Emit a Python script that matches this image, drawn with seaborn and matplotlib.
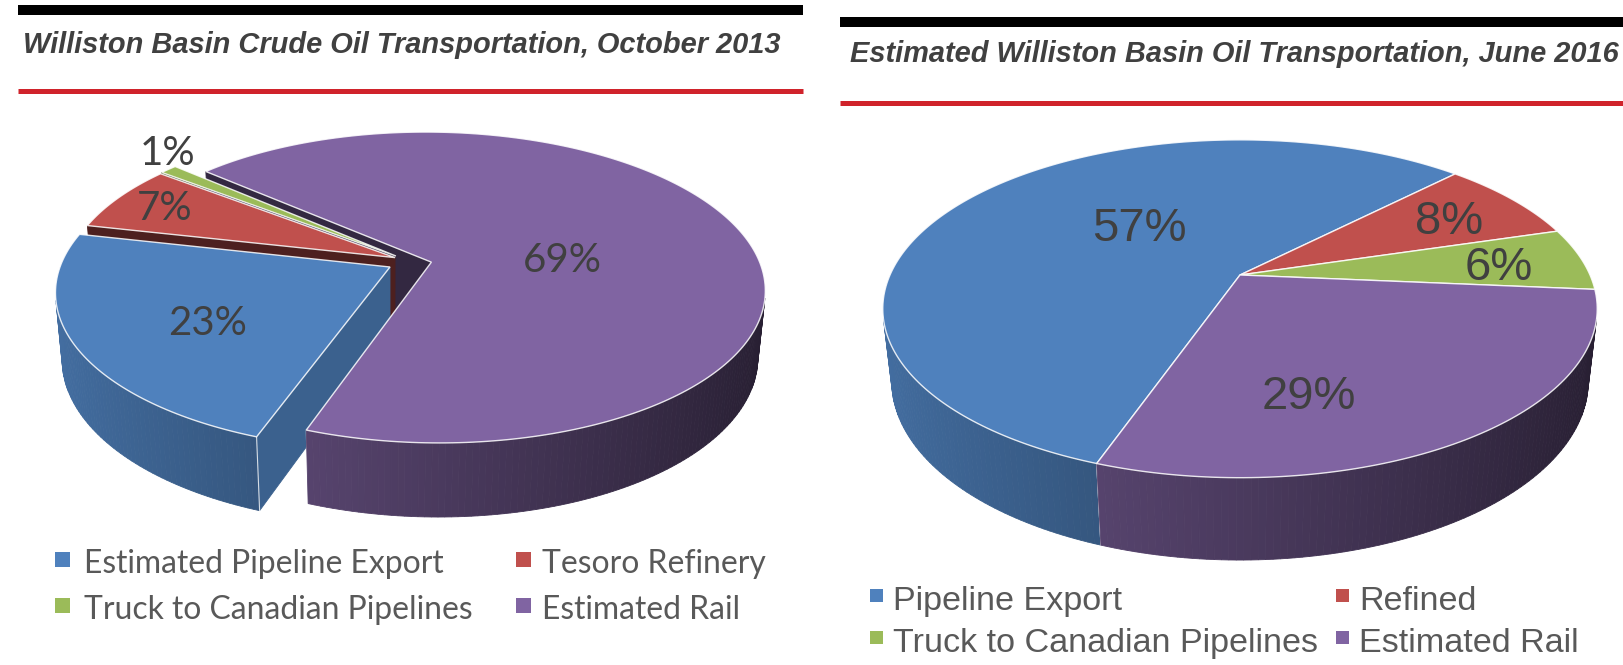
import numpy as np
import matplotlib
matplotlib.use("Agg")
import matplotlib.pyplot as plt
from matplotlib.patches import Polygon, Rectangle
from matplotlib.colors import to_rgb
from matplotlib import font_manager
import seaborn as sns

# values
oct2013_title = "Williston Basin Crude Oil Transportation, October 2013"
oct2013_labels = ["Estimated Pipeline Export", "Tesoro Refinery",
                  "Truck to Canadian Pipelines", "Estimated Rail"]
oct2013_share = [23, 7, 1, 69]

jun2016_title = "Estimated Williston Basin Oil Transportation, June 2016"
jun2016_labels = ["Pipeline Export", "Refined",
                  "Truck to Canadian Pipelines", "Estimated Rail"]
jun2016_share = [57, 8, 6, 29]

sns.set_theme(style="white")
colors = sns.color_palette(["#4F81BD", "#C0504D", "#9BBB59", "#8064A2"])
text_grey = "#404040"

names = {f.name for f in font_manager.fontManager.ttflist}
narrow = "Liberation Sans Narrow" if "Liberation Sans Narrow" in names else "Liberation Sans"
calibri_like = "Lato" if "Lato" in names else "DejaVu Sans"
plt.rcParams["font.family"] = ["Liberation Sans", "DejaVu Sans"]

W, H = 1623, 665
fig = plt.figure(figsize=(W / 100, H / 100), dpi=100)
ax = fig.add_axes([0, 0, 1, 1])
ax.set_xlim(0, W)
ax.set_ylim(H, 0)
ax.axis("off")
renderer = fig.canvas.get_renderer()


def fit_size(s, width_px, **kw):
    t = ax.text(0, 0, s, fontsize=20, **kw)
    w = t.get_window_extent(renderer).width
    t.remove()
    return 20 * width_px / w


def shade(col, f):
    return tuple(np.clip(np.array(to_rgb(col)) * f, 0, 1))


def header(title, x0, x1, bar_y, rule_y, text_x, text_w, base_y):
    ax.plot([x0, x1], [bar_y, bar_y], color="black", lw=7.2, solid_capstyle="butt")
    ax.plot([x0, x1], [rule_y, rule_y], color="#D0232B", lw=3.6, solid_capstyle="butt")
    fs = fit_size(title, text_w, family=narrow, weight="bold", style="italic")
    ax.text(text_x, base_y, title, fontsize=fs, family=narrow, weight="bold",
            style="italic", color=text_grey, va="baseline")


def legend(labels, sq_x, txt_x, base_y, sq, fit_label, fit_w, family):
    fs = fit_size(fit_label, fit_w, family=family)
    for i, lab in enumerate(labels):
        col, row = i % 2, i // 2
        ax.add_patch(Rectangle((sq_x[col], base_y[row] - 0.42 * fs * 1.39 - sq / 2), sq, sq,
                               fc=colors[i], ec="none"))
        ax.text(txt_x[col], base_y[row], lab, fontsize=fs, family=family,
                color="#595959", va="baseline")


def draw_pie3d(shares, cx, cy, R, elev, persp, h, start, explode, explode_dir,
               label_pos, label_font, label_size):
    s, c = np.sin(np.radians(elev)), np.cos(np.radians(elev))
    D = persp * c
    cam = np.array([0.0, -D * c, D * s])

    def proj(u, v, z):
        f = D / (D + v * c - z * s)
        return cx + R * u * f, cy - R * (v * s + z * c) * f

    def depth(p):
        return D + p[1] * c - p[2] * s

    n = len(shares)
    edges = start - 360 * np.r_[0, np.cumsum(shares)] / np.sum(shares)
    offs = []
    for i in range(n):
        a = (edges[i] + edges[i + 1]) / 2 if explode_dir[i] is None else explode_dir[i]
        offs.append(explode[i] * np.array([np.cos(np.radians(a)), np.sin(np.radians(a))]))

    walls, tops = [], []
    for i in range(n):
        a0, a1 = edges[i], edges[i + 1]
        o = offs[i]
        t = np.radians(np.linspace(a0, a1, int(abs(a0 - a1)) + 2))
        u, v = o[0] + np.cos(t), o[1] + np.sin(t)
        tx, ty = proj(np.r_[o[0], u], np.r_[o[1], v], 0.0)
        tops.append((np.column_stack([tx, ty]), colors[i]))
        # outer wall, shaded light on the left to dark on the right
        for k in range(len(t) - 1):
            tm = 0.5 * (t[k] + t[k + 1])
            nrm = np.array([np.cos(tm), np.sin(tm), 0.0])
            p = np.array([o[0] + np.cos(tm), o[1] + np.sin(tm), -h / 2])
            if nrm @ (cam - p) <= 0:
                continue
            x1, y1 = proj(u[k:k + 2], v[k:k + 2], 0.0)
            x2, y2 = proj(u[k:k + 2][::-1], v[k:k + 2][::-1], -h)
            fc = shade(colors[i], np.clip(0.58 - 0.28 * nrm[0], 0.3, 1))
            walls.append((depth(p), "poly", np.column_stack([np.r_[x1, x2], np.r_[y1, y2]]), fc))
        # white edge where slices meet on the wall
        for a in (a0, a1):
            ar = np.radians(a)
            nrm = np.array([np.cos(ar), np.sin(ar), 0.0])
            p = np.array([o[0] + np.cos(ar), o[1] + np.sin(ar), -h / 2])
            if nrm @ (cam - p) <= 0:
                continue
            lx, ly = proj(np.array([p[0], p[0]]), np.array([p[1], p[1]]), np.array([0.0, -h]))
            walls.append((depth(p) - 1e-3, "line", (lx, ly), None))
        # cut faces, only seen next to a pulled-out slice
        for a, sgn, j in ((a0, 1, (i - 1) % n), (a1, -1, (i + 1) % n)):
            if explode[i] == 0 and explode[j] == 0:
                continue
            ar = np.radians(a)
            d = np.array([np.cos(ar), np.sin(ar)])
            nrm = sgn * np.array([-np.sin(ar), np.cos(ar), 0.0])
            p = np.array([o[0] + d[0] / 2, o[1] + d[1] / 2, -h / 2])
            if nrm @ (cam - p) <= 0:
                continue
            uu = np.array([o[0], o[0] + d[0], o[0] + d[0], o[0]])
            vv = np.array([o[1], o[1] + d[1], o[1] + d[1], o[1]])
            x, y = proj(uu, vv, np.array([0.0, 0.0, -h, -h]))
            f = 0.75 if nrm[0] > 0 else 0.4
            walls.append((depth(p), "poly", np.column_stack([x, y]), shade(colors[i], f)))

    for d, kind, data, col in sorted(walls, key=lambda w: -w[0]):
        if kind == "poly":
            ax.add_patch(Polygon(data, closed=True, fc=col, ec=col, lw=0.6, zorder=2))
        else:
            ax.plot(data[0], data[1], color="white", lw=0.8, alpha=0.8, zorder=2)
    for poly, col in tops:
        ax.add_patch(Polygon(poly, closed=True, fc=col, ec=(1, 1, 1, 0.85), lw=1.0, zorder=3))

    for i, (r, dx, dy) in enumerate(label_pos):
        mid = np.radians((edges[i] + edges[i + 1]) / 2)
        lx, ly = proj(offs[i][0] + r * np.cos(mid), offs[i][1] + r * np.sin(mid), 0.0)
        ax.text(lx + dx, ly + dy + 0.36 * label_size * 1.39, f"{shares[i]}%",
                fontsize=label_size, family=label_font, color=text_grey,
                ha="center", va="baseline", zorder=4)


# left panel: October 2013
header(oct2013_title, 18, 803, 10, 90.5, 23, 757, 53)
draw_pie3d(oct2013_share, cx=390, cy=267, R=330, elev=27.6, persp=6.1, h=0.23, start=250,
           explode=[0, 0.064, 0.075, 0.13], explode_dir=[None, 76, 76, None],
           label_pos=[(0.60, 0, 7), (0.78, -12, -5), (0.94, -13, -24), (0.42, 0, 11)],
           label_font=calibri_like, label_size=29)
legend(oct2013_labels, sq_x=[55, 516], txt_x=[84, 542], base_y=[573, 619], sq=15,
       fit_label="Truck to Canadian Pipelines", fit_w=390, family=calibri_like)

# right panel: June 2016
header(jun2016_title, 840, W, 22, 102.5, 850, 769, 62)
draw_pie3d(jun2016_share, cx=1240, cy=275, R=350, elev=27.6, persp=5.0, h=0.235, start=250.6,
           explode=[0, 0, 0, 0], explode_dir=[None] * 4,
           label_pos=[(0.35, 0, -22), (0.75, 0, 0), (0.755, 0, 0), (0.75, -94, 0)],
           label_font="Liberation Sans", label_size=34)
legend(jun2016_labels, sq_x=[870, 1336], txt_x=[893, 1359], base_y=[610, 652], sq=13,
       fit_label="Truck to Canadian Pipelines", fit_w=425, family=narrow)

fig.savefig("out.png", dpi=100, facecolor="white")
